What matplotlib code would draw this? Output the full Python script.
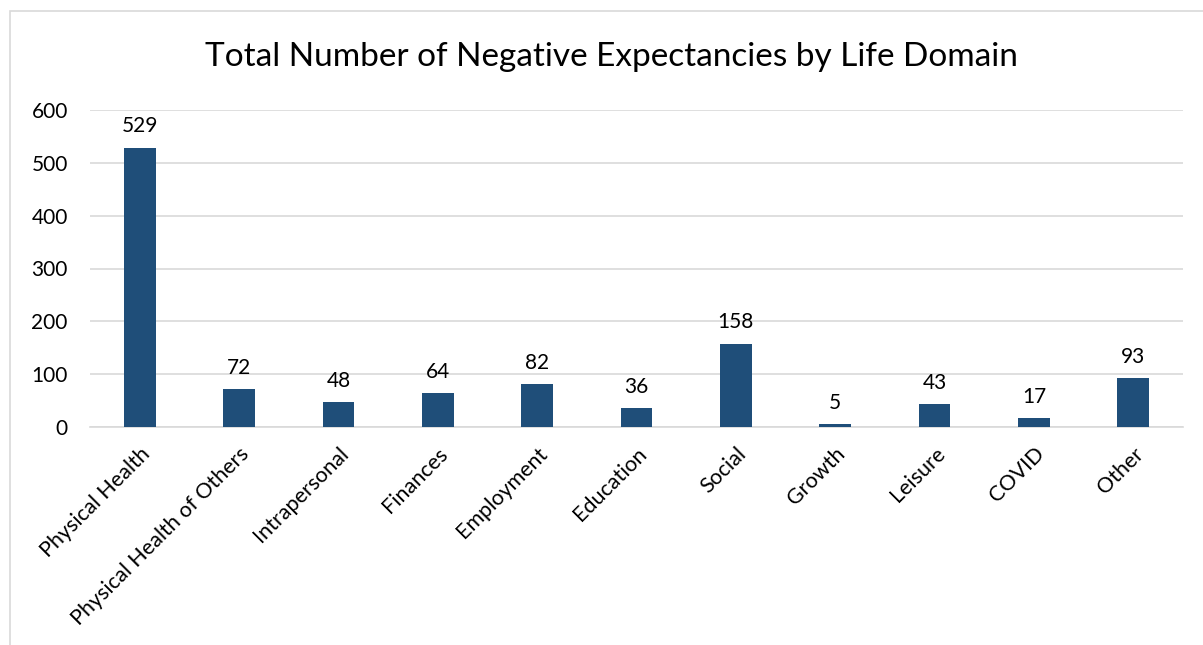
import matplotlib.pyplot as plt
from matplotlib.patches import Rectangle

categories = ['Physical Health', 'Physical Health of Others', 'Intrapersonal', 'Finances',
              'Employment', 'Education', 'Social', 'Growth', 'Leisure', 'COVID', 'Other']
counts = [529, 72, 48, 64, 82, 36, 158, 5, 43, 17, 93]
y_ticks = [0, 100, 200, 300, 400, 500, 600]

plt.rcParams['font.family'] = ['Lato', 'DejaVu Sans']

fig = plt.figure(figsize=(12.03, 6.45), dpi=100)
ax = fig.add_axes([90 / 1203, 1 - 427 / 645, (1183 - 90) / 1203, (427 - 110) / 645])

# outer chart border (only left/top visible in the reference)
fig.patches.append(Rectangle((10 / 1203, -0.1), 1.2, 1 - 11 / 645 + 0.1,
                             transform=fig.transFigure, fill=False,
                             edgecolor='#D9D9D9', linewidth=1.2))

x = range(len(categories))
bars = ax.bar(x, counts, width=0.32, color='#1F4E79', zorder=3)
for xi, v in zip(x, counts):
    ax.annotate(str(v), (xi, v), xytext=(0, 8), textcoords='offset points',
                ha='center', va='bottom', fontsize=15, color='black')

ax.set_xlim(-0.5, len(categories) - 0.5)
ax.set_ylim(0, 600)
ax.set_yticks(y_ticks)
ax.tick_params(axis='y', length=0, pad=16, labelsize=15)
ax.set_xticks(list(x))
ax.set_xticklabels(categories, rotation=45, ha='right', rotation_mode='anchor', fontsize=15.5)
ax.tick_params(axis='x', length=0, pad=12)
ax.grid(axis='y', color='#D9D9D9', linewidth=1.2, zorder=0)
for s in ['top', 'right', 'left']:
    ax.spines[s].set_visible(False)
ax.spines['bottom'].set_color('#D9D9D9')
ax.spines['bottom'].set_linewidth(1.2)

fig.text(611 / 1203, 1 - 57 / 645, 'Total Number of Negative Expectancies by Life Domain',
         ha='center', va='center', fontsize=24)

fig.savefig('out.png', dpi=100, facecolor='white')
